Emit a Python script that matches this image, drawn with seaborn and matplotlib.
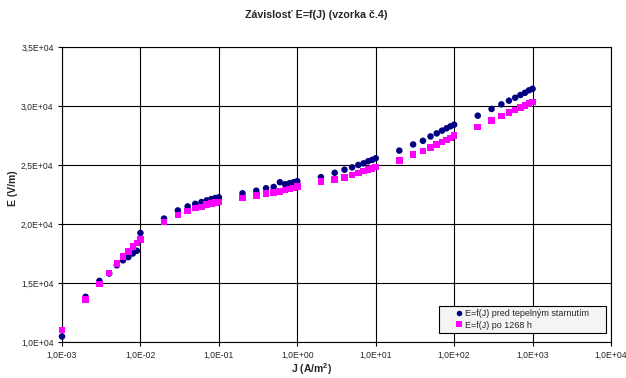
import matplotlib
matplotlib.use("Agg")
import matplotlib.pyplot as plt
import matplotlib.ticker as mticker
import matplotlib.patches as mpatches
import numpy as np
import pandas as pd
import seaborn as sns

# ---- data ----
J = [1e-3, 2e-3, 3e-3, 4e-3, 5e-3, 6e-3, 7e-3, 8e-3, 9e-3,
     1e-2, 2e-2, 3e-2, 4e-2, 5e-2, 6e-2, 7e-2, 8e-2, 9e-2,
     1e-1, 2e-1, 3e-1, 4e-1, 5e-1, 6e-1, 7e-1, 8e-1, 9e-1,
     1e0, 2e0, 3e0, 4e0, 5e0, 6e0, 7e0, 8e0, 9e0,
     1e1, 2e1, 3e1, 4e1, 5e1, 6e1, 7e1, 8e1, 9e1,
     1e2, 2e2, 3e2, 4e2, 5e2, 6e2, 7e2, 8e2, 9e2,
     1e3]
E_pred = [10470, 13830, 15180, 15800, 16500, 16920, 17190, 17500, 17730,
          19240, 20460, 21150, 21490, 21710, 21860, 22000, 22110, 22200,
          22260, 22600, 22820, 23030, 23140, 23540, 23370, 23460, 23540,
          23630, 23970, 24340, 24600, 24800, 25000, 25140, 25320, 25430,
          25570, 26220, 26740, 27050, 27420, 27680, 27910, 28110, 28280,
          28420, 29180, 29750, 30140, 30450, 30700, 30930, 31120, 31330,
          31460]
E_po = [11010, 13580, 14900, 15850, 16640, 17230, 17670, 18090, 18400,
        18680, 20170, 20770, 21090, 21340, 21460, 21660, 21750, 21830,
        21880, 22220, 22400, 22570, 22690, 22770, 22880, 22970, 23060,
        23170, 23600, 23780, 23950, 24140, 24340, 24490, 24600, 24720,
        24830, 25370, 25880, 26170, 26480, 26740, 26940, 27110, 27290,
        27480, 28230, 28760, 29160, 29430, 29660, 29860, 30060, 30200,
        30340]
series_names = ["E=f(J) pred tepelným starnutím", "E=f(J) po 1268 h"]
x_ticks = [1e-3, 1e-2, 1e-1, 1e0, 1e1, 1e2, 1e3, 1e4]
y_ticks = [10000, 15000, 20000, 25000, 30000, 35000]
title = "Závislosť E=f(J) (vzorka č.4)"
xlabel = "J (A/m$^\\mathbf{2}$)"
ylabel = "E (V/m)"

df = pd.DataFrame({
    "J": J + J,
    "E": E_pred + E_po,
    "series": [series_names[0]] * len(J) + [series_names[1]] * len(J),
})

sns.set_style("white")
plt.rcParams["font.family"] = ["Liberation Sans", "DejaVu Sans"]
plt.rcParams["mathtext.fontset"] = "custom"
plt.rcParams["mathtext.bf"] = "Liberation Sans:bold"
plt.rcParams["mathtext.rm"] = "Liberation Sans"

W, H = 626, 378
fig = plt.figure(figsize=(W / 100, H / 100), dpi=100)
ax = fig.add_axes([62 / W, 1 - 342 / H, (611 - 62) / W, (342 - 47) / H])

ax.set_xscale("log")
ax.set_xlim(1e-3, 1e4)
ax.set_ylim(10000, 35000)

sns.scatterplot(data=df, x="J", y="E", hue="series", style="series",
                hue_order=series_names, style_order=series_names,
                palette=["#000080", "#FF00FF"], markers=["o", "s"],
                s=22, linewidth=0, ax=ax, zorder=3, clip_on=False)

ax.set_xticks(x_ticks)
ax.set_yticks(y_ticks)
ax.xaxis.set_minor_locator(mticker.NullLocator())
fmt = mticker.FuncFormatter(lambda v, p: f"{v:.1E}".replace(".", ","))
ax.xaxis.set_major_formatter(fmt)
ax.yaxis.set_major_formatter(fmt)
ax.tick_params(axis="both", which="major", direction="out", length=3,
               width=0.8, color="black", labelsize=6.2, pad=3,
               bottom=True, left=True)

ax.grid(True, color="black", linewidth=0.8)
ax.set_axisbelow(True)
for sp in ax.spines.values():
    sp.set_visible(True)
    sp.set_color("black")
    sp.set_linewidth(0.8)

ax.set_xlabel("")
ax.set_ylabel("")
fig.text(312 / W, 1 - 369 / H, xlabel, ha="center", va="center",
         fontsize=7.5, fontweight="bold")
fig.text(13 / W, 1 - 188 / H, ylabel, ha="center", va="center",
         rotation=90, fontsize=7.5, fontweight="bold")
fig.text(316 / W, 1 - 15 / H, title, ha="center", va="center",
         fontsize=7.7, fontweight="bold")

# legend box (Excel-style rectangle)
box = mpatches.Rectangle((439 / W, 1 - 333 / H), (606 - 439) / W, (333 - 306) / H,
                         transform=fig.transFigure, facecolor="#f4f4f4",
                         edgecolor="black", linewidth=0.8, zorder=4,
                         clip_on=False)
ax.add_patch(box)

leg = ax.legend(loc="center left", bbox_to_anchor=(456.5 / W, 1 - 319.5 / H),
                bbox_transform=fig.transFigure,
                borderaxespad=0, fontsize=6.5, frameon=False,
                handlelength=0.6, handletextpad=0.3, labelspacing=0.25,
                borderpad=0, markerscale=0.85, title=None)
leg.set_zorder(5)

fig.savefig("out.png", dpi=100)
